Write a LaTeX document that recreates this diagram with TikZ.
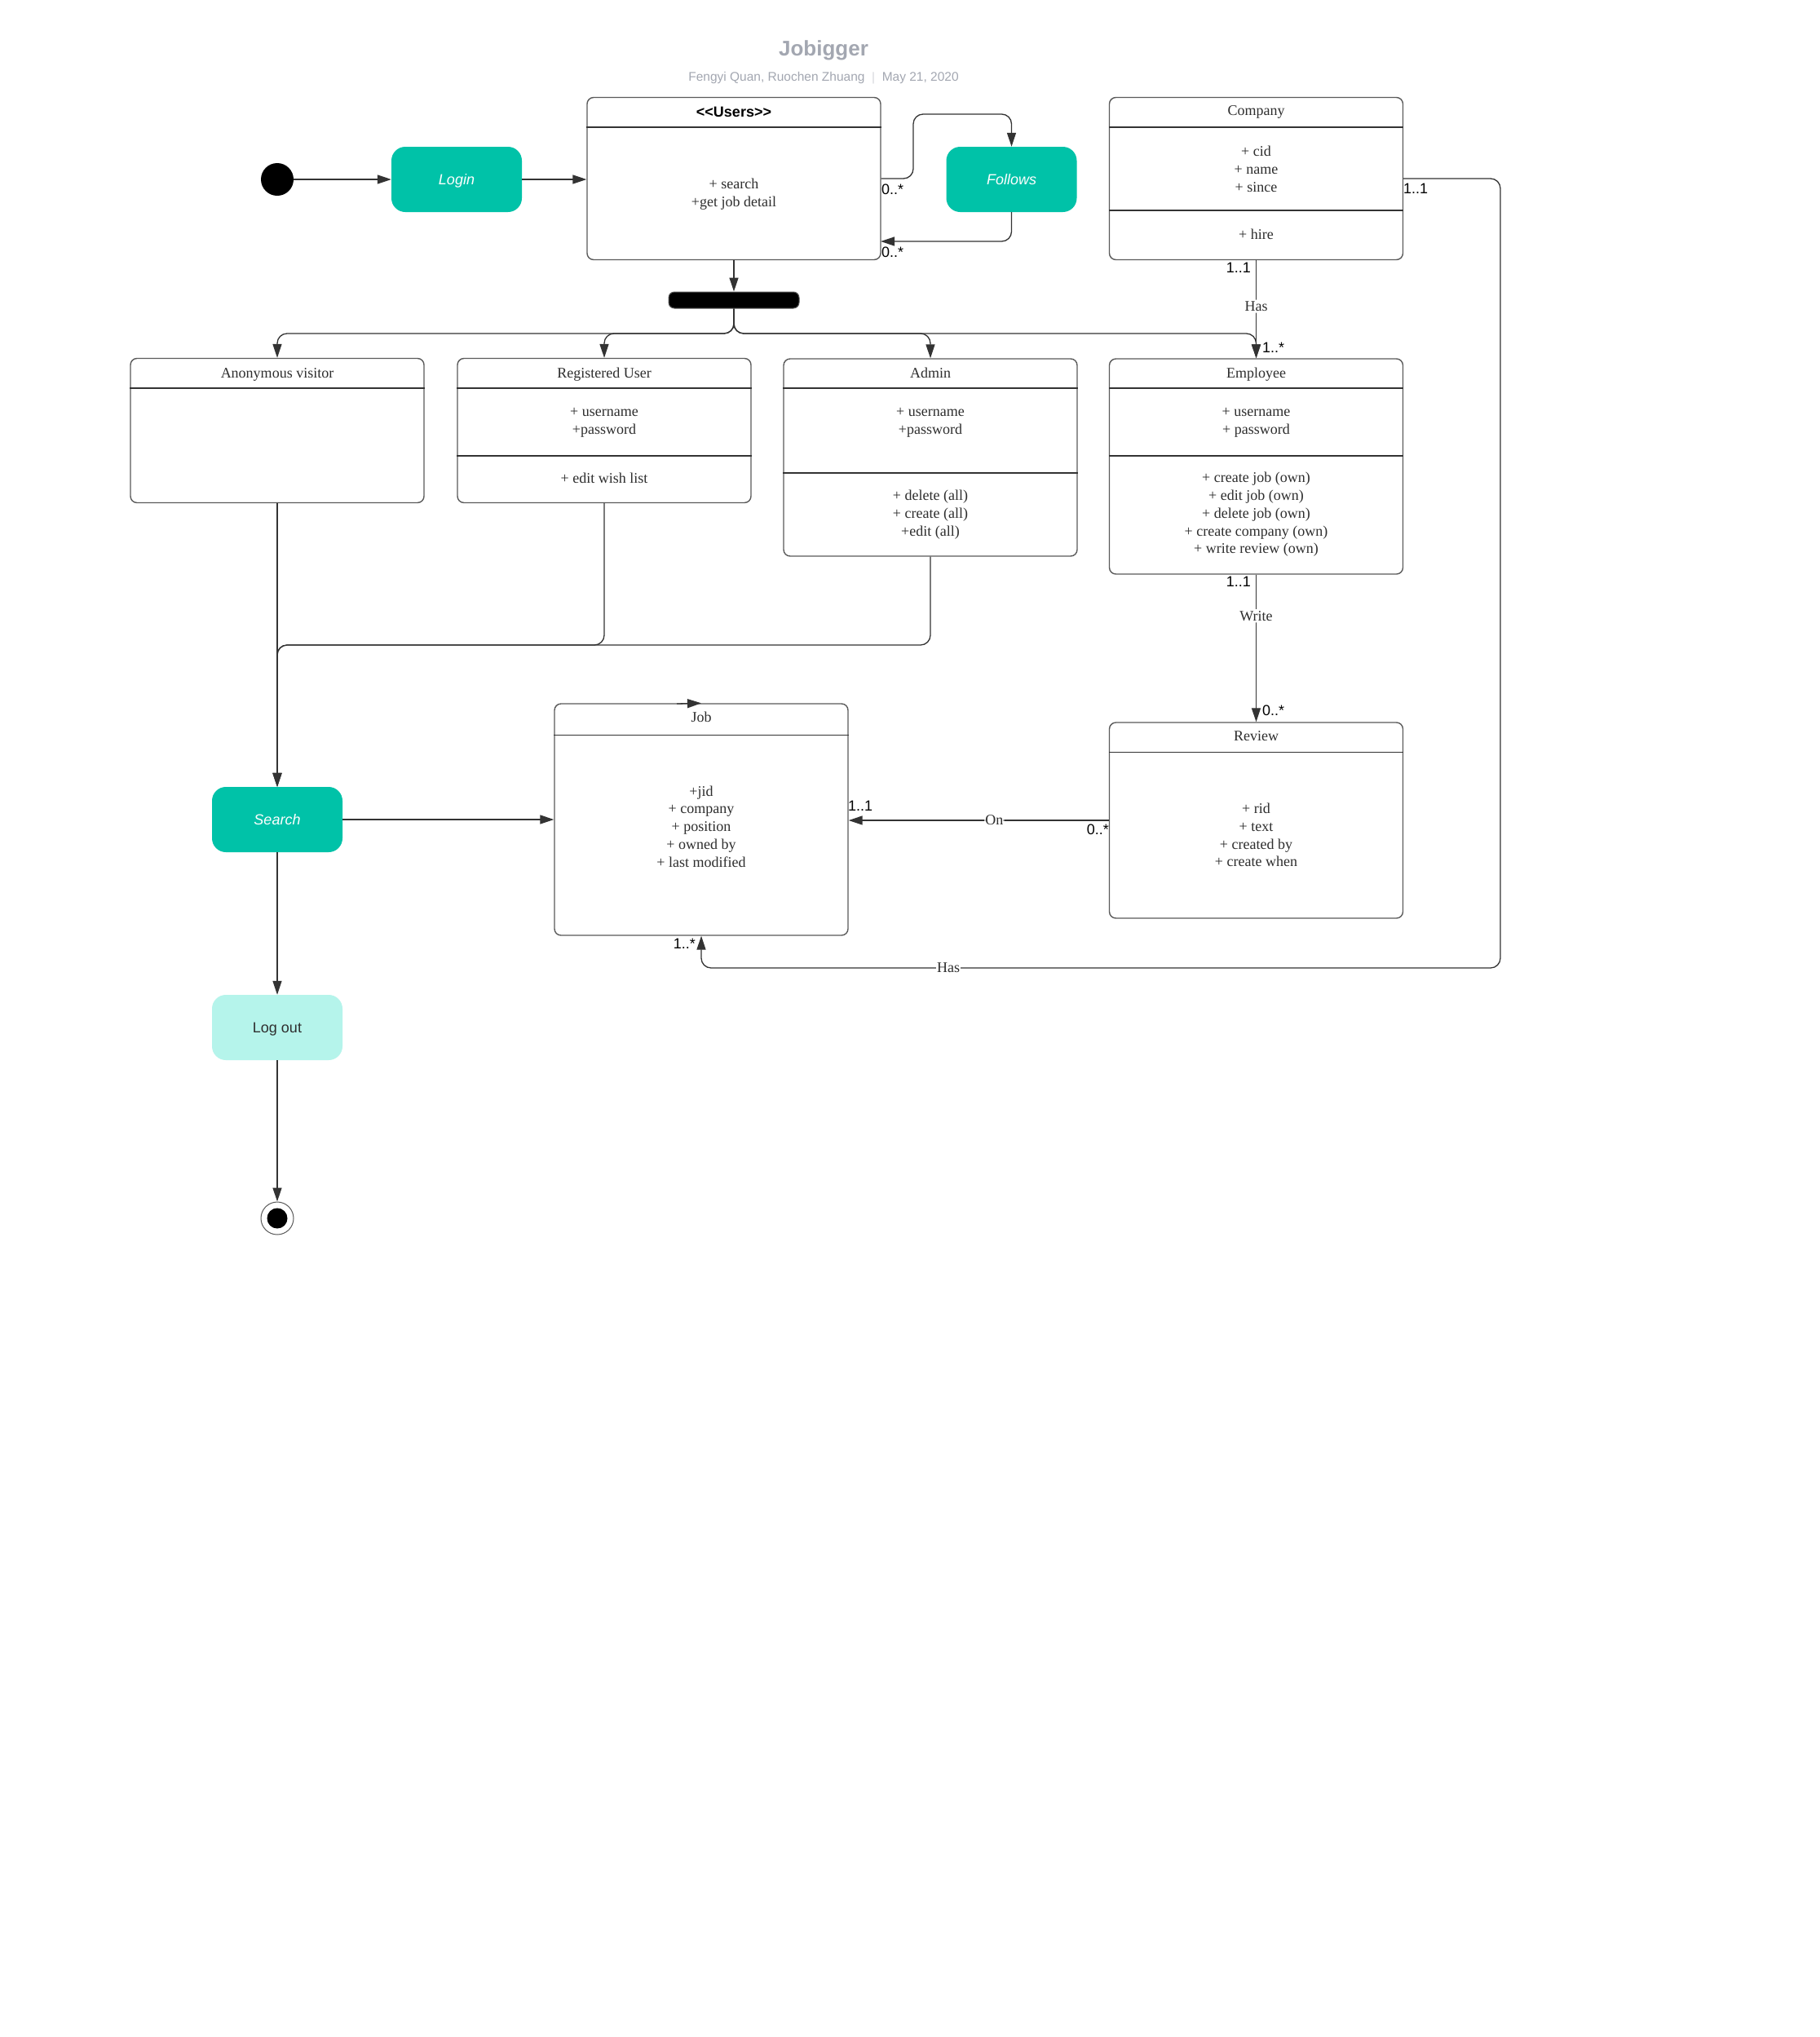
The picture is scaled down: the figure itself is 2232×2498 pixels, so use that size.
\documentclass[tikz,border=0pt]{standalone}
\usepackage{fontspec}
\setmainfont{Liberation Serif}
\newfontfamily\labelfont{Liberation Sans}
\usetikzlibrary{arrows.meta}

\definecolor{stateteal}{HTML}{00C2A8}
\definecolor{statelight}{HTML}{B5F4EB}
\definecolor{linegray}{HTML}{333333}
\definecolor{boxgray}{HTML}{5A5A5A}
\definecolor{titlegray}{HTML}{A3A7B1}
\definecolor{bodytext}{HTML}{2E2E2E}

\tikzset{
  conn/.style={draw=linegray, line width=1.3pt, rounded corners=12pt,
    -{Triangle[length=17pt,width=11pt]}},
  classbox/.style={draw=boxgray, line width=1.4pt, rounded corners=8pt,
    fill=white, inner sep=0pt, minimum width=360pt},
  sepline/.style={draw=linegray, line width=1.1pt},
  statebox/.style={fill=stateteal, rounded corners=17pt, inner sep=0pt,
    minimum width=160pt, minimum height=80pt, text=white,
    text height=13pt, text depth=0pt,
    font=\labelfont\itshape\fontsize{18}{21}\selectfont},
  lightbox/.style={fill=statelight, rounded corners=17pt, inner sep=0pt,
    minimum width=160pt, minimum height=80pt, text=bodytext,
    text height=13pt, text depth=0pt,
    font=\labelfont\fontsize{18}{21}\selectfont},
  ctext/.style={align=center, text=bodytext, inner sep=0pt,
    font=\fontsize{18}{21.7}\selectfont},
  htext/.style={text=bodytext, inner sep=0pt, text height=12pt, text depth=4pt,
    font=\fontsize{18}{21.7}\selectfont},
  mult/.style={inner sep=1pt, text=black, font=\labelfont\fontsize{18}{21}\selectfont},
  rel/.style={fill=white, inner sep=2pt, text=bodytext,
    font=\fontsize{18}{21}\selectfont},
  titletext/.style={text=titlegray, font=\labelfont\bfseries\fontsize{26}{30}\selectfont},
  subtext/.style={text=titlegray, font=\labelfont\fontsize{15.5}{18}\selectfont},
}

\begin{document}
\begin{tikzpicture}[x=1pt,y=-1pt]
\fill[white] (0,0) rectangle (2232,2498);
\useasboundingbox (0,0) rectangle (2232,2498);

% heading
\node[titletext] (title) at (1010,62) {Jobigger};
\node[subtext] (subtitle) at (1010,96) {Fengyi Quan, Ruochen Zhuang \ $|$ \ May 21, 2020};

% start / end markers
\node[circle, fill=black, minimum size=40pt, inner sep=0pt] (startdot) at (340,220) {};
\node[circle, draw=boxgray, line width=1pt, fill=white, minimum size=40pt, inner sep=0pt] (finish) at (340,1494) {};
\node[circle, fill=black, minimum size=25pt, inner sep=0pt] (finishdot) at (340,1494) {};

% activity states
\node[statebox] (login) at (560,220) {Login};
\node[statebox] (follows) at (1240.5,220) {Follows};
\node[statebox] (search) at (340,1005) {Search};
\node[lightbox] (logout) at (340,1260) {Log out};

% fork bar
\node[fill=black, draw=boxgray, line width=1pt, rounded corners=7pt,
  minimum width=160pt, minimum height=20pt, inner sep=0pt] (fork) at (900,368) {};

% Users
\node[classbox, minimum height=199pt] (users) at (900,219) {};
\draw[sepline] (users.west |- 0,156) -- (users.east |- 0,156);
\node[inner sep=0pt, text height=13pt, text depth=2pt,
  font=\labelfont\bfseries\fontsize{18}{21}\selectfont] (usersT) at (900,138) {<{}<Users>{}>};
\node[ctext] (usersA) at (900,238) {+ search\\+get job detail};

% Company
\node[classbox, minimum height=199pt] (company) at (1540.5,219) {};
\draw[sepline] (company.west |- 0,156) -- (company.east |- 0,156);
\draw[sepline] (company.west |- 0,258) -- (company.east |- 0,258);
\node[htext] (companyT) at (1540.5,137) {Company};
\node[ctext] (companyA) at (1540.5,207.5) {+ cid\\+ name\\+ since};
\node[htext] (companyO) at (1540.5,289) {+ hire};

% Anonymous visitor
\node[classbox, minimum height=177pt] (anon) at (340,528) {};
\draw[sepline] (anon.west |- 0,476) -- (anon.east |- 0,476);
\node[htext] (anonT) at (340,459) {Anonymous visitor};

% Registered User
\node[classbox, minimum height=177pt] (reg) at (741,528) {};
\draw[sepline] (reg.west |- 0,476) -- (reg.east |- 0,476);
\draw[sepline] (reg.west |- 0,559) -- (reg.east |- 0,559);
\node[htext] (regT) at (741,459) {Registered User};
\node[ctext] (regA) at (741,518) {+ username\\+password};
\node[htext] (regO) at (741,588) {+ edit wish list};

% Admin
\node[classbox, minimum height=242pt] (admin) at (1141,561) {};
\draw[sepline] (admin.west |- 0,476) -- (admin.east |- 0,476);
\draw[sepline] (admin.west |- 0,580) -- (admin.east |- 0,580);
\node[htext] (adminT) at (1141,459) {Admin};
\node[ctext] (adminA) at (1141,518) {+ username\\+password};
\node[ctext] (adminO) at (1141,631) {+ delete (all)\\+ create (all)\\+edit (all)};

% Employee
\node[classbox, minimum height=264pt] (employee) at (1540.5,572) {};
\draw[sepline] (employee.west |- 0,476) -- (employee.east |- 0,476);
\draw[sepline] (employee.west |- 0,559) -- (employee.east |- 0,559);
\node[htext] (employeeT) at (1540.5,459) {Employee};
\node[ctext] (employeeA) at (1540.5,518) {+ username\\+ password};
\node[ctext] (employeeO) at (1540.5,631) {+ create job (own)\\+ edit job (own)\\+ delete job (own)\\+ create company (own)\\+ write review (own)};

% Job
\node[classbox, minimum height=284pt] (job) at (860,1005) {};
\draw[sepline] (job.west |- 0,901.7) -- (job.east |- 0,901.7);
\node[htext] (jobT) at (860,881) {Job};
\node[ctext] (jobA) at (860,1013.5) {+jid\\+ company\\+ position\\+ owned by\\+ last modified};

% Review
\node[classbox, minimum height=240pt] (review) at (1540.5,1006) {};
\draw[sepline] (review.west |- 0,922.4) -- (review.east |- 0,922.4);
\node[htext] (reviewT) at (1540.5,904) {Review};
\node[ctext] (reviewA) at (1540.5,1024) {+ rid\\+ text\\+ created by\\+ create when};

% bend points
\coordinate (followUp) at (1120,140);
\coordinate (followBack) at (1080,296);
\coordinate (brAnon) at (340,409);
\coordinate (brReg) at (741,409);
\coordinate (brAdmin) at (1141,409);
\coordinate (brEmp) at (1540.5,409);
\coordinate (merge) at (340,791);
\coordinate (hasCorner) at (1840,1187);
\coordinate (jobTopStart) at (830,863);

% flow
\draw[conn] (startdot) -- (login);
\draw[conn] (login.east) -- (login.east -| users.west);
\draw[conn] (users.east) -| (followUp) -| (follows.north);
\draw[conn] (follows.south) |- (followBack);
\draw[conn] (users.south) -- (fork.north);
\draw[conn] (fork.south) |- (brAnon) -- (anon.north);
\draw[conn] (fork.south) |- (brReg) -- (reg.north);
\draw[conn] (fork.south) |- (brAdmin) -- (admin.north);
\draw[conn] (fork.south) |- (brEmp) -- (employee.north);
\draw[conn] (anon.south) -- (search.north);
\draw[conn] (reg.south) |- (merge) -- (search.north);
\draw[conn] (admin.south) |- (merge) -- (search.north);
\draw[conn] (search.east) -- (search.east -| job.west);
\draw[conn] (search.south) -- (logout.north);
\draw[conn] (logout.south) -- (finish.north);
\draw[conn] (jobTopStart) -- (job.north);

% associations
\draw[conn] (company.south) -- node[rel, pos=0.47] (hasEmp) {Has} (employee.north);
\draw[conn] (employee.south) -- node[rel, pos=0.28] (write) {Write} (review.north);
\draw[conn] (review.west) -- node[rel, pos=0.44, inner sep=1pt] (on) {On} (review.west -| job.east);
\draw[conn] (company.east) -| (hasCorner) -| (job.south);
\node[rel, inner sep=1pt] (hasJob) at (1163,1187) {Has};

% multiplicities
\node[mult, anchor=west] (m1) at (1080,232) {0..*};
\node[mult, anchor=west] (m2) at (1080,309) {0..*};
\node[mult, anchor=east] (m3) at (1535,328) {1..1};
\node[mult, anchor=west] (m4) at (1547,426) {1..*};
\node[mult, anchor=east] (m5) at (1535,713) {1..1};
\node[mult, anchor=west] (m6) at (1547,871) {0..*};
\node[mult, anchor=west] (m7) at (1039,988) {1..1};
\node[mult, anchor=east] (m8) at (1361,1017) {0..*};
\node[mult, anchor=west] (m9) at (1720,231) {1..1};
\node[mult, anchor=east] (m10) at (854,1157) {1..*};
\end{tikzpicture}
\end{document}
